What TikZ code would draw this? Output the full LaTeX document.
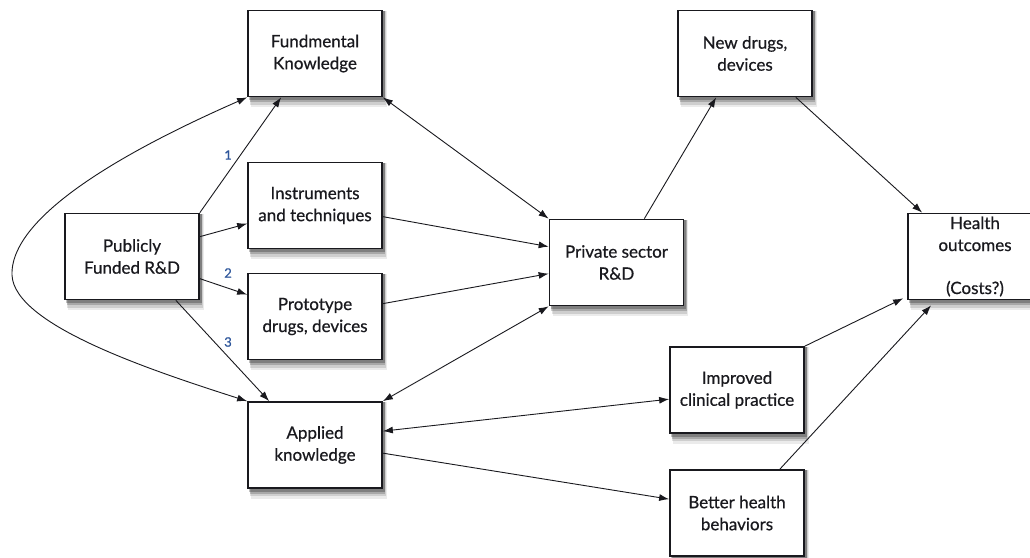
\documentclass[tikz,border=0pt]{standalone}
\usepackage{fontspec}
\setmainfont{Lato}
\newfontfamily\boxfont{Lato}[FakeBold=0.6]
\usetikzlibrary{arrows.meta}
\pgfdeclarelayer{paper}
\pgfdeclarelayer{shade}
\pgfsetlayers{paper,shade,main}
\definecolor{inkgray}{RGB}{25,25,30}
\definecolor{numblue}{RGB}{45,85,155}
\begin{document}
\begin{tikzpicture}[x=1pt,y=-1pt,
  box/.style={draw=inkgray,line width=1.7pt,fill=white,minimum width=134pt,minimum height=86pt,
    align=center,font=\boxfont\fontsize{17}{22}\selectfont,text=inkgray,inner sep=0pt},
  shadowband/.style={fill=black,fill opacity=#1,draw=none},
  link/.style={draw=inkgray,line width=0.9pt,-{Latex[length=10pt,width=7pt]}},
  both/.style={link,{Latex[length=10pt,width=7pt]}-{Latex[length=10pt,width=7pt]}},
  num/.style={text=numblue,font=\boxfont\fontsize{13}{14}\selectfont,inner sep=0pt}]
\useasboundingbox (0,0) rectangle (1030,557);
\begin{pgfonlayer}{paper}
\fill[white] (0,0) rectangle (1030,557);
\end{pgfonlayer}

% boxes
\node[box] (fund)     at (315,53.5)  {Fundmental\\Knowledge};
\node[box] (instr)    at (315,205.5) {Instruments\\and techniques};
\node[box] (pub)      at (132,256.5) {Publicly\\Funded R\&D};
\node[box] (proto)    at (315,316.5) {Prototype\\drugs, devices};
\node[box] (applied)  at (315,445)   {Applied\\knowledge};
\node[box] (private)  at (616.5,262.5) {Private sector\\R\&D};
\node[box] (newdrugs) at (745,53.5)  {New drugs,\\devices};
\node[box] (health)   at (975,256.5) {Health\\outcomes\\[21pt](Costs?)};
\node[box] (improved) at (737,390)   {Improved\\clinical practice};
\node[box] (better)   at (737,513)   {Better health\\behaviors};

% soft drop shadows under every box
\begin{pgfonlayer}{shade}
\foreach \b in {fund,instr,pub,proto,applied,private,newdrugs,health,improved,better}{
  \fill[shadowband=0.08] ([xshift=4pt,yshift=-1pt]\b.north west) rectangle ([xshift=4pt,yshift=-10pt]\b.south east);
  \fill[shadowband=0.12] ([xshift=3pt,yshift=-1pt]\b.north west) rectangle ([xshift=3pt,yshift=-7.5pt]\b.south east);
  \fill[shadowband=0.18] ([xshift=2.5pt,yshift=-1pt]\b.north west) rectangle ([xshift=2.5pt,yshift=-5pt]\b.south east);
  \fill[shadowband=0.24] ([xshift=2pt,yshift=-1pt]\b.north west) rectangle ([xshift=2pt,yshift=-3pt]\b.south east);
}
\end{pgfonlayer}

% public funding channels
\draw[link] (pub.north east) -- ([xshift=34pt]fund.south west);
\draw[link] ([yshift=-24pt]pub.north east) -- ([yshift=-62pt]instr.north west);
\draw[link] ([yshift=-66pt]pub.north east) -- ([yshift=-22pt]proto.north west);
\draw[link] ([xshift=-24pt]pub.south east) -- ([xshift=22pt]applied.north west);
\node[num] (n1) at (228,155) {1};
\node[num] (n2) at (228,273) {2};
\node[num] (n3) at (228,342) {3};

% loop between fundamental and applied knowledge
\draw[both] (fund.south west) .. controls (150,140) and (10,210) .. (12,275)
  .. controls (14,325) and (150,370) .. (applied.north west);

% flows into private sector R&D
\draw[both] (fund.south east) -- (private.north west);
\draw[link] ([yshift=-55pt]instr.north east) -- ([yshift=-28pt]private.north west);
\draw[link] ([yshift=-31pt]proto.north east) -- ([yshift=-55pt]private.north west);
\draw[both] (private.south west) -- (applied.north east);

% towards health outcomes
\draw[link] ([xshift=-40pt]private.north east) -- ([xshift=39pt]newdrugs.south west);
\draw[link] ([xshift=-17pt]newdrugs.south east) -- ([xshift=15pt]health.north west);
\draw[both] ([yshift=-30pt]applied.north east) -- ([yshift=-53pt]improved.north west);
\draw[link] ([yshift=-52pt]applied.north east) -- ([yshift=-30pt]better.north west);
\draw[link] (improved.north east) -- ([xshift=-4pt,yshift=2pt]health.south west);
\draw[link] ([xshift=-25pt]better.north east) -- ([xshift=24pt,yshift=-5pt]health.south west);
\end{tikzpicture}
\end{document}
